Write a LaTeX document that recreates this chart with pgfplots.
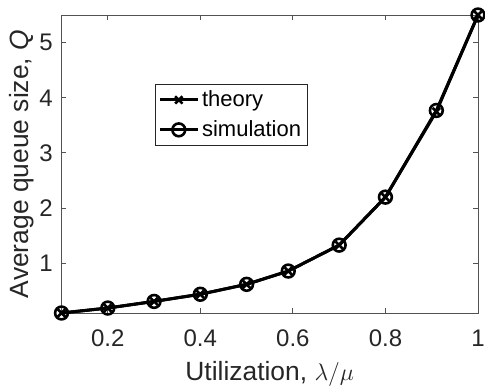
\documentclass[border=0pt]{standalone}
\usepackage{fontspec}
\setmainfont{Liberation Sans}
\usepackage{pgfplots}
\pgfplotsset{compat=1.18}
\definecolor{axgray}{rgb}{0.15,0.15,0.15}
\begin{document}
\begin{tikzpicture}
\begin{axis}[
  scale only axis,
  width=208.25pt, height=149pt,
  xmin=0.1, xmax=1, ymin=0.1, ymax=5.5,
  xtick={0.2,0.4,0.6,0.8,1},
  ytick={1,2,3,4,5},
  xticklabels={0.2,0.4,0.6,0.8,1},
  yticklabels={1,2,3,4,5},
  tick align=inside,
  major tick length=2.5pt,
  axis line style={draw=axgray!80, line width=0.5pt},
  every tick/.style={draw=axgray!80, line width=0.5pt},
  /pgf/number format/assume math mode=true,
  ticklabel style={font=\fontsize{12}{14}\selectfont, text=axgray},
  xticklabel style={anchor=base, yshift=-16.7pt, inner sep=0pt},
  yticklabel style={anchor=east, inner sep=0pt, xshift=-4.2pt},
  xlabel={Utilization, $\lambda/\mu$},
  ylabel={Average queue size, \textit{Q}},
  label style={font=\fontsize{13.2}{15}\selectfont, text=axgray},
  xlabel style={at={(axis description cs:0.5,-0.226)}, anchor=base, inner sep=0pt},
  ylabel style={at={(axis description cs:-0.0804,0.5)}, anchor=base, inner sep=0pt},
  clip=false,
  legend style={at={(axis description cs:0.2245,0.7687)}, anchor=north west,
    draw=axgray, line width=0.5pt, fill=white,
    font=\fontsize{11}{12}\selectfont, text=black,
    inner sep=1.5pt, row sep=2.5pt,
    nodes={inner sep=1.5pt}},
  legend cell align=left,
  legend image code/.code={\draw[mark repeat=2,mark phase=2] plot coordinates {(0cm,0cm) (0.33cm,0cm) (0.66cm,0cm)};},
]
\addplot[black, line width=1.5pt, mark=x, mark size=2.6pt, mark options={line width=1.3pt}] coordinates {
(0.1,0.1) (0.2,0.19) (0.3,0.31) (0.4,0.44) (0.5,0.62) (0.59,0.86) (0.7,1.33) (0.8,2.2) (0.91,3.75) (1.0,5.5)};
\addlegendentry{theory}
\addplot[black, line width=1.5pt, mark=o, mark size=3.2pt, mark options={line width=1.3pt}] coordinates {
(0.1,0.1) (0.2,0.19) (0.3,0.31) (0.4,0.44) (0.5,0.62) (0.59,0.86) (0.7,1.33) (0.8,2.2) (0.91,3.77) (1.0,5.5)};
\addlegendentry{simulation}
\coordinate (ll) at (rel axis cs:0,0);
\coordinate (ur) at (rel axis cs:1,1);
\end{axis}
\pgfresetboundingbox
\path ([shift={(-30.75pt,-36.5pt)}]ll) rectangle ([shift={(3.5pt,7.5pt)}]ur);
\end{tikzpicture}
\end{document}
